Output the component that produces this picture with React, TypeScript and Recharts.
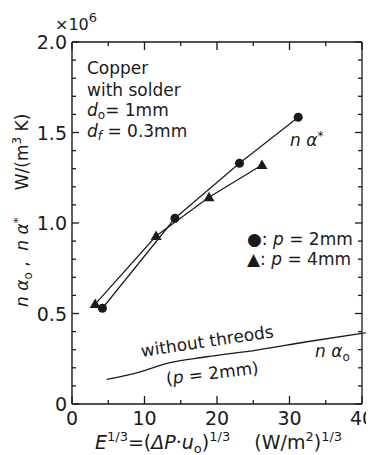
import React from "react";
import {
  ComposedChart,
  Line,
  XAxis,
  YAxis,
  ReferenceLine,
  Customized,
} from "recharts";

// E^(1/3) values, (W/m2)^(1/3)
const circleE = [4.2, 14.2, 23.1, 31.2];
const circleVal = [0.529, 1.026, 1.33, 1.584];
const triangleE = [3.2, 11.6, 18.9, 26.2];
const triangleVal = [0.552, 0.928, 1.142, 1.32];
const plainE = [4.8, 9.4, 13.1, 18.6, 25.5, 32.4, 40];
const plainVal = [0.136, 0.178, 0.225, 0.261, 0.298, 0.344, 0.39];
// the curve runs on a little past the right frame
const plainTailE = [40, 41.6];
const plainTailVal = [0.39, 0.4];

const xTicks = [0, 5, 10, 15, 20, 25, 30, 35, 40];
const yTicks = [
  0, 0.1, 0.2, 0.3, 0.4, 0.5, 0.6, 0.7, 0.8, 0.9, 1.0, 1.1, 1.2, 1.3, 1.4, 1.5,
  1.6, 1.7, 1.8, 1.9, 2.0,
];

const circleRows = circleE.map((e, i) => ({ e, v: circleVal[i] }));
const triangleRows = triangleE.map((e, i) => ({ e, v: triangleVal[i] }));
const plainRows = plainE.map((e, i) => ({ e, v: plainVal[i] }));

const INK = "#1a1a1a";
const FONT = "DejaVu Sans";
const PLOT_W = 290;
const PLOT_H = 362;

// ticks point inwards, on both the near and the far side of the frame
const YTick = (props: any) => {
  const x = Number(props.x);
  const y = Number(props.y);
  const v = Number(props.payload.value);
  const major = Math.abs(v * 2 - Math.round(v * 2)) < 1e-6;
  const len = major ? 7 : 4;
  return (
    <g>
      <path d={`M${x},${y}H${x + len}`} stroke={INK} strokeWidth={1.3} fill="none" />
      <path
        d={`M${x + PLOT_W},${y}H${x + PLOT_W - len}`}
        stroke={INK}
        strokeWidth={1.3}
        fill="none"
      />
      {major && (
        <text x={x - 5} y={y + 7} textAnchor="end" fontSize={19} fill={INK} fontFamily={FONT}>
          {v === 0 ? "0" : v.toFixed(1)}
        </text>
      )}
    </g>
  );
};

const XTick = (props: any) => {
  const x = Number(props.x);
  const y = Number(props.y);
  const v = Number(props.payload.value);
  const major = v % 10 === 0;
  const len = major ? 8 : 4;
  return (
    <g>
      <path d={`M${x},${y}V${y - len}`} stroke={INK} strokeWidth={1.3} fill="none" />
      <path
        d={`M${x},${y - PLOT_H}V${y - PLOT_H + len}`}
        stroke={INK}
        strokeWidth={1.3}
        fill="none"
      />
      {major && (
        <text x={x} y={y + 21} textAnchor="middle" fontSize={19} fill={INK} fontFamily={FONT}>
          {v}
        </text>
      )}
    </g>
  );
};

const Triangle = (props: any) => {
  const { cx, cy } = props;
  if (cx == null || cy == null) return null;
  return (
    <polygon
      points={`${cx},${cy - 5.5} ${cx - 5.5},${cy + 4} ${cx + 5.5},${cy + 4}`}
      fill={INK}
    />
  );
};

const Notes = () => (
  <g fontFamily={FONT} fill={INK}>
    <text x={47} y={22} fontSize={16}>
      ×10<tspan dy={-8} fontSize={13}>6</tspan>
    </text>

    <g fontSize={17}>
      <text x={79} y={66}>Copper</text>
      <text x={79} y={88}>with solder</text>
      <text x={79} y={108}>
        <tspan fontStyle="italic">d</tspan>
        <tspan dy={3} fontSize={12}>o</tspan>
        <tspan dy={-3}>= 1mm</tspan>
      </text>
      <text x={79} y={129}>
        <tspan fontStyle="italic">d</tspan>
        <tspan dy={3} fontSize={12} fontStyle="italic">f</tspan>
        <tspan dy={-3}> = 0.3mm</tspan>
      </text>

      <text x={282} y={138} fontStyle="italic">
        n α<tspan dy={-6} fontSize={12}>*</tspan>
      </text>

      <text x={239} y={237}>
        ●: <tspan fontStyle="italic">p</tspan> = 2mm
      </text>
      <text x={239} y={257}>
        ▲: <tspan fontStyle="italic">p</tspan> = 4mm
      </text>

      <text x={200} y={339} textAnchor="middle" transform="rotate(-8.5 200 339)">
        without threods
      </text>
      <text x={205} y={371} textAnchor="middle" transform="rotate(-7 205 371)">
        (<tspan fontStyle="italic">p</tspan> = 2mm)
      </text>
      <text x={307} y={349}>
        <tspan fontStyle="italic">n α</tspan>
        <tspan dy={4} fontSize={12}>o</tspan>
      </text>
    </g>

    <text
      x={20}
      y={299}
      fontSize={17}
      transform="rotate(-90 20 299)"
      style={{ whiteSpace: "pre" }}
    >
      <tspan fontStyle="italic">n α</tspan>
      <tspan dy={4} fontSize={12}>o</tspan>
      <tspan dy={-4}>{" ,  "}</tspan>
      <tspan fontStyle="italic">n α</tspan>
      <tspan dy={-6} fontSize={12}>*</tspan>
      <tspan dy={6}>{"     W/(m"}</tspan>
      <tspan dy={-7} fontSize={12}>3</tspan>
      <tspan dy={7}> K)</tspan>
    </text>

    <text x={87} y={441} fontSize={19} style={{ whiteSpace: "pre" }}>
      <tspan fontStyle="italic">E</tspan>
      <tspan dy={-8} fontSize={13}>1/3</tspan>
      <tspan dy={8}>=(</tspan>
      <tspan fontStyle="italic">ΔP</tspan>
      <tspan>·</tspan>
      <tspan fontStyle="italic">u</tspan>
      <tspan dy={4} fontSize={13}>o</tspan>
      <tspan dy={-4}>)</tspan>
      <tspan dy={-8} fontSize={13}>1/3</tspan>
      <tspan dy={8}>{"    (W/m"}</tspan>
      <tspan dy={-8} fontSize={13}>2</tspan>
      <tspan dy={8}>)</tspan>
      <tspan dy={-8} fontSize={13}>1/3</tspan>
    </text>
  </g>
);

export default function App() {
  return (
    <div style={{ width: 366, height: 447 }}>
      <ComposedChart
        width={366}
        height={447}
        margin={{ top: 34, right: 12, bottom: 0, left: 0 }}
      >
        <XAxis
          type="number"
          dataKey="e"
          domain={[0, 40]}
          allowDataOverflow
          ticks={xTicks}
          interval={0}
          height={51}
          tickSize={0}
          tickMargin={0}
          tickLine={false}
          axisLine={{ stroke: INK, strokeWidth: 1.4 }}
          tick={(p: any) => <XTick {...p} />}
        />
        <YAxis
          type="number"
          dataKey="v"
          domain={[0, 2]}
          allowDataOverflow
          ticks={yTicks}
          interval={0}
          width={64}
          tickSize={0}
          tickMargin={0}
          tickLine={false}
          axisLine={{ stroke: INK, strokeWidth: 1.4 }}
          tick={(p: any) => <YTick {...p} />}
        />
        <ReferenceLine y={2} stroke={INK} strokeWidth={1.3} />
        <ReferenceLine x={40} stroke={INK} strokeWidth={1.3} />
        <Line
          data={plainRows}
          dataKey="v"
          type="monotone"
          stroke={INK}
          strokeWidth={1.3}
          dot={false}
          isAnimationActive={false}
        />
        <ReferenceLine
          segment={[
            { x: plainTailE[0], y: plainTailVal[0] },
            { x: plainTailE[1], y: plainTailVal[1] },
          ]}
          ifOverflow="visible"
          stroke={INK}
          strokeWidth={1.1}
        />
        <Line
          data={circleRows}
          dataKey="v"
          stroke={INK}
          strokeWidth={1.2}
          dot={{ r: 4.5, fill: INK, stroke: INK, strokeWidth: 0 }}
          isAnimationActive={false}
        />
        <Line
          data={triangleRows}
          dataKey="v"
          stroke={INK}
          strokeWidth={1.2}
          dot={<Triangle />}
          isAnimationActive={false}
        />
        <Customized component={Notes} />
      </ComposedChart>
    </div>
  );
}
